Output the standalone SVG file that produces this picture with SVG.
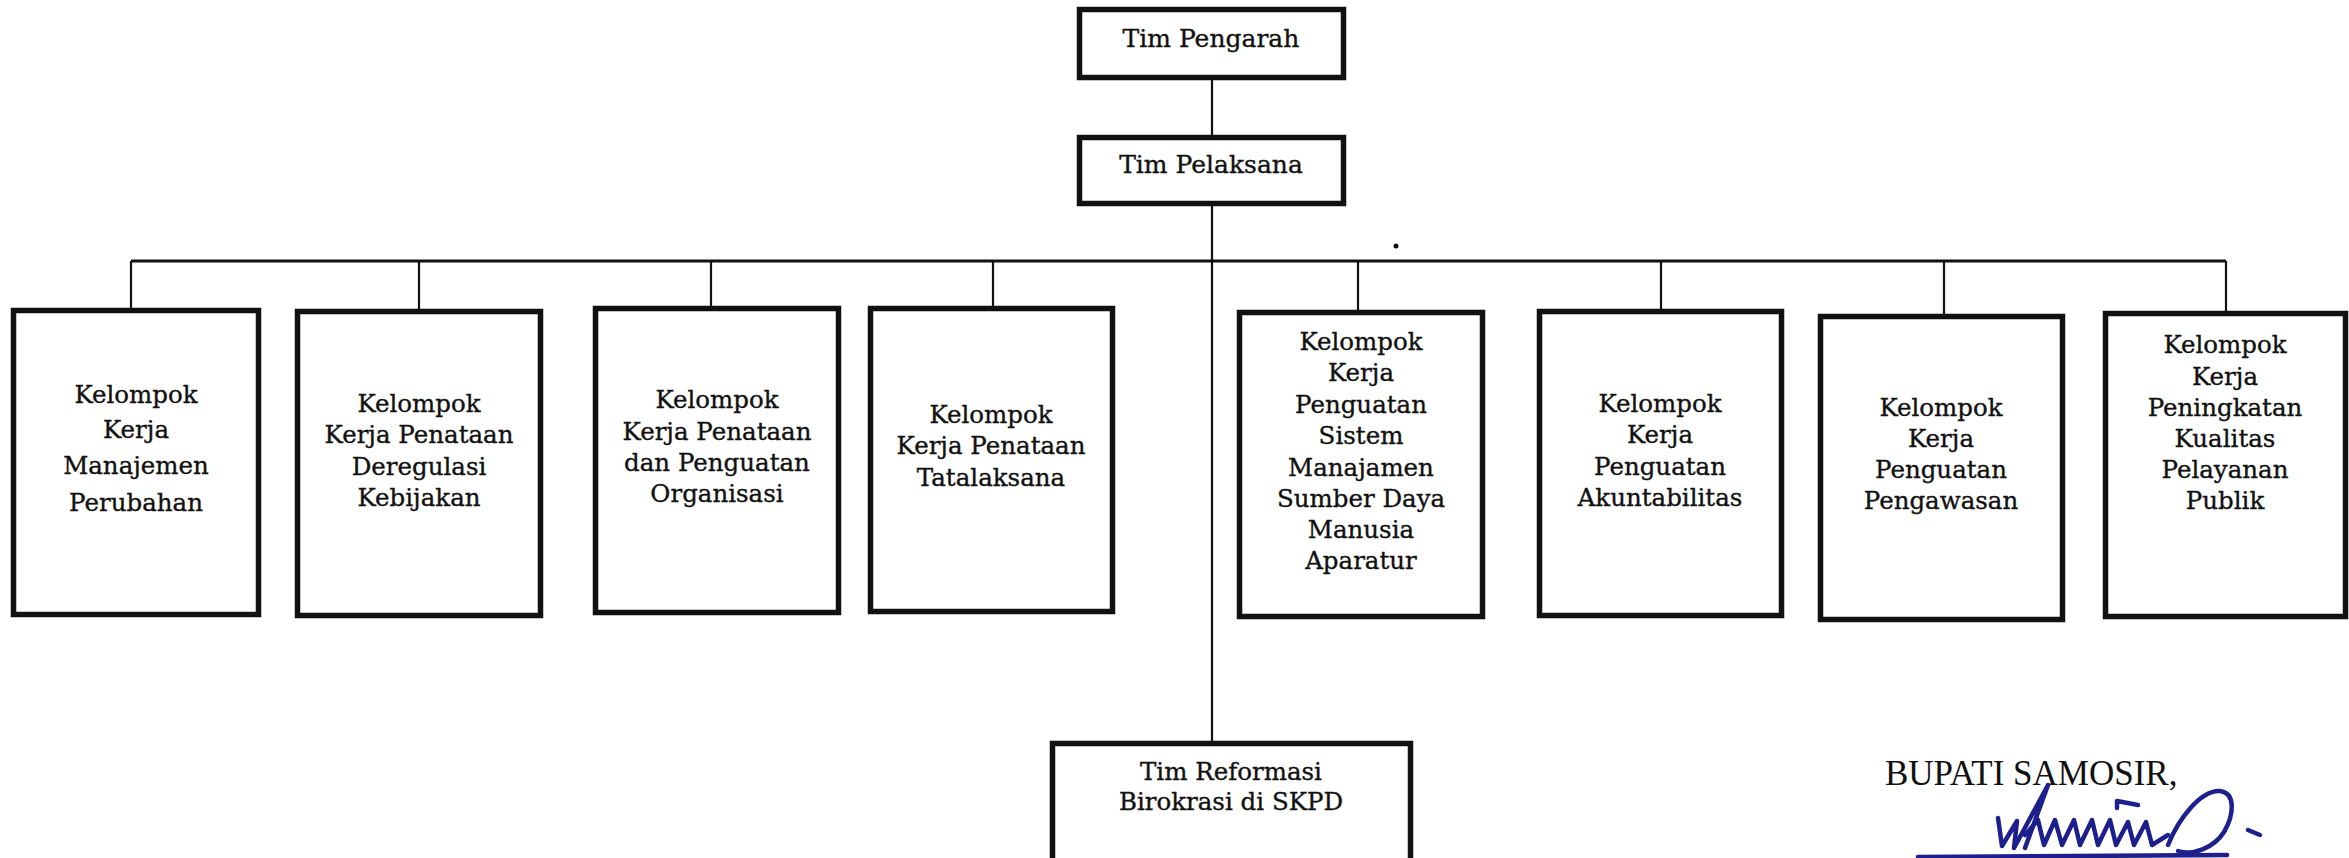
<svg xmlns="http://www.w3.org/2000/svg" width="2349" height="858" viewBox="0 0 2349 858">
<style>
.box{fill:#fff;stroke:#111;stroke-width:5.5}
.ln{stroke:#111;stroke-width:2.2;fill:none}
.bus{stroke:#111;stroke-width:3.2;fill:none}
.t{font-family:"DejaVu Serif","Liberation Serif",serif;font-size:24.5px;fill:#111;stroke:#111;stroke-width:0.35;text-anchor:middle}
.tt{font-size:25px}
.sig{fill:none;stroke:#1c1f8c;stroke-width:4.5;stroke-linecap:round;stroke-linejoin:round}
</style>
<rect width="2349" height="858" fill="#fff"/>
<g id="connectors">
<line class="ln" x1="1212" y1="80" x2="1212" y2="135"/>
<line class="ln" x1="1212" y1="206" x2="1212" y2="741"/>
<line class="bus" x1="131" y1="261" x2="2226" y2="261"/>
<line class="ln" x1="131" y1="261" x2="131" y2="308"/>
<line class="ln" x1="419" y1="261" x2="419" y2="309"/>
<line class="ln" x1="711" y1="261" x2="711" y2="306"/>
<line class="ln" x1="993" y1="261" x2="993" y2="306"/>
<line class="ln" x1="1358" y1="261" x2="1358" y2="310"/>
<line class="ln" x1="1661" y1="261" x2="1661" y2="309"/>
<line class="ln" x1="1944" y1="261" x2="1944" y2="314"/>
<line class="ln" x1="2226" y1="261" x2="2226" y2="311"/>
</g>
<g id="tim-pengarah">
<rect class="box" x="1079.5" y="9.5" width="264" height="68"/>
<text class="t tt" x="1211" y="47">Tim Pengarah</text>
</g>
<g id="tim-pelaksana">
<rect class="box" x="1079.5" y="137.5" width="264" height="66"/>
<text class="t tt" x="1211" y="173">Tim Pelaksana</text>
</g>
<g id="kk-manajemen-perubahan">
<rect class="box" x="13.5" y="310.5" width="245" height="304"/>
<text class="t" x="136" y="403">Kelompok</text>
<text class="t" x="136" y="438">Kerja</text>
<text class="t" x="136" y="474">Manajemen</text>
<text class="t" x="136" y="511">Perubahan</text>
</g>
<g id="kk-deregulasi">
<rect class="box" x="297.5" y="311.5" width="243" height="304"/>
<text class="t" x="419" y="412">Kelompok</text>
<text class="t" x="419" y="443">Kerja Penataan</text>
<text class="t" x="419" y="475">Deregulasi</text>
<text class="t" x="419" y="506">Kebijakan</text>
</g>
<g id="kk-organisasi">
<rect class="box" x="595.5" y="308.5" width="243" height="304"/>
<text class="t" x="717" y="408">Kelompok</text>
<text class="t" x="717" y="440">Kerja Penataan</text>
<text class="t" x="717" y="471">dan Penguatan</text>
<text class="t" x="717" y="502">Organisasi</text>
</g>
<g id="kk-tatalaksana">
<rect class="box" x="870.5" y="308.5" width="242" height="303"/>
<text class="t" x="991" y="423">Kelompok</text>
<text class="t" x="991" y="454">Kerja Penataan</text>
<text class="t" x="991" y="486">Tatalaksana</text>
</g>
<g id="kk-sdm-aparatur">
<rect class="box" x="1239.5" y="312.5" width="243" height="304"/>
<text class="t" x="1361" y="350">Kelompok</text>
<text class="t" x="1361" y="381">Kerja</text>
<text class="t" x="1361" y="413">Penguatan</text>
<text class="t" x="1361" y="444">Sistem</text>
<text class="t" x="1361" y="476">Manajamen</text>
<text class="t" x="1361" y="507">Sumber Daya</text>
<text class="t" x="1361" y="538">Manusia</text>
<text class="t" x="1361" y="569">Aparatur</text>
</g>
<g id="kk-akuntabilitas">
<rect class="box" x="1539.5" y="311.5" width="242" height="304"/>
<text class="t" x="1660" y="412">Kelompok</text>
<text class="t" x="1660" y="443">Kerja</text>
<text class="t" x="1660" y="475">Penguatan</text>
<text class="t" x="1660" y="506">Akuntabilitas</text>
</g>
<g id="kk-pengawasan">
<rect class="box" x="1820.5" y="316.5" width="242" height="303"/>
<text class="t" x="1941" y="416">Kelompok</text>
<text class="t" x="1941" y="447">Kerja</text>
<text class="t" x="1941" y="478">Penguatan</text>
<text class="t" x="1941" y="509">Pengawasan</text>
</g>
<g id="kk-pelayanan-publik">
<rect class="box" x="2105.5" y="313.5" width="240" height="303"/>
<text class="t" x="2225" y="353">Kelompok</text>
<text class="t" x="2225" y="385">Kerja</text>
<text class="t" x="2225" y="416">Peningkatan</text>
<text class="t" x="2225" y="447">Kualitas</text>
<text class="t" x="2225" y="478">Pelayanan</text>
<text class="t" x="2225" y="509">Publik</text>
</g>
<g id="tim-reformasi-skpd">
<rect class="box" x="1052.5" y="743.5" width="358" height="130"/>
<text class="t" x="1231" y="780">Tim Reformasi</text>
<text class="t" x="1231" y="810">Birokrasi di SKPD</text>
</g>
<circle cx="1396" cy="246" r="2.5" fill="#111"/>
<g id="signature-block">
<text x="1885" y="785" style="font-family:'Liberation Serif',serif;font-size:35px;fill:#111">BUPATI SAMOSIR,</text>
<path class="sig" d="M1998 818 L2002 846 L2017 821 L2014 848 L2048 785 L2025 848"/>
<path class="sig" d="M2025 835 L2038 820 L2044 845 L2055 820 L2062 845 L2074 820 L2080 845 L2092 820 L2098 845 L2110 820 L2116 845 L2128 822 L2134 845 L2146 822 L2152 845 L2168 835"/>
<path class="sig" d="M2168 845 C2178 820 2200 790 2220 791 C2236 793 2234 815 2224 832 C2214 848 2192 856 2178 851"/>
<path class="sig" d="M2117 808 L2117 801 L2138 805"/>
<path class="sig" d="M2248 830 L2260 835"/>
<path class="sig" d="M1918 857 L2227 855" stroke-width="3"/>
</g>
</svg>
